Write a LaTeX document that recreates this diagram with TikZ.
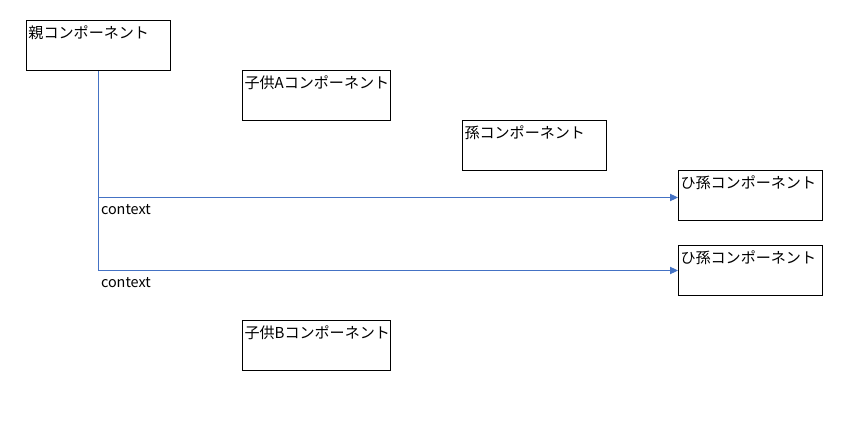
\documentclass[tikz,border=0pt]{standalone}
\usepackage{fontspec}
\setmainfont{Noto Sans CJK JP}
\usetikzlibrary{arrows.meta}
\definecolor{linkblue}{RGB}{68,114,196}
\tikzset{every picture/.style={line width=0.75pt}}
\tikzset{
  comp/.style={draw=black, anchor=north west, minimum width=108pt, minimum height=37.5pt, inner sep=0pt,
    label={[anchor=north west, inner xsep=1.5pt, inner ysep=4pt, font=\fontsize{11.3}{13}\selectfont]north west:#1}},
  ctxlink/.style={draw=linkblue, -{Triangle[length=6pt,width=5.5pt]}},
  ctxlabel/.style={anchor=north west, inner xsep=1.5pt, inner ysep=4.5pt, font=\fontsize{10.8}{12}\selectfont}
}

\begin{document}
\begin{tikzpicture}[x=0.75pt,y=0.75pt,yscale=-1,xscale=1]
\useasboundingbox (0,0) rectangle (856,432);

%Shape: Rectangle [parent]
\node [comp={親コンポーネント}] (parent) at (26,20) {};
%Shape: Rectangle [childA]
\node [comp={子供Aコンポーネント}, minimum width=111pt] (childA) at (242,70) {};
%Shape: Rectangle [grandchild]
\node [comp={孫コンポーネント}] (grand) at (462,120) {};
%Shape: Rectangle [great-grandchild 1]
\node [comp={ひ孫コンポーネント}] (greatA) at (678,170) {};
%Shape: Rectangle [great-grandchild 2]
\node [comp={ひ孫コンポーネント}] (greatB) at (678,245) {};
%Shape: Rectangle [childB]
\node [comp={子供Bコンポーネント}, minimum width=111pt] (childB) at (242,320) {};

%Connector: context links
\draw [ctxlink] (parent.south) |- ([yshift=1.5pt]greatA.west) node [ctxlabel, pos=0.5] (ctxA) {context};
\draw [ctxlink] (parent.south) |- (greatB.west) node [ctxlabel, pos=0.5] (ctxB) {context};

\end{tikzpicture}
\end{document}
